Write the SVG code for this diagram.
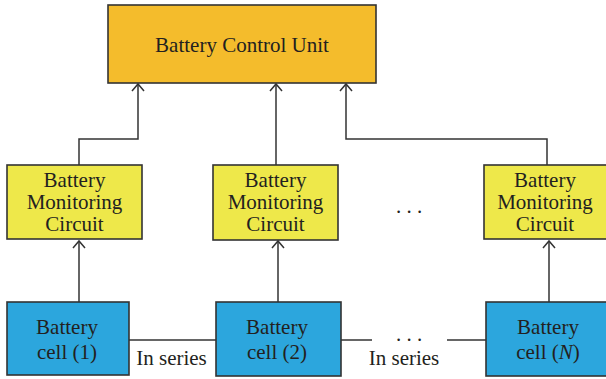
<svg xmlns="http://www.w3.org/2000/svg" width="606" height="379" viewBox="0 0 606 379">
<style>
.box{stroke:#333;stroke-width:1.6}
.bcu{fill:#F4BC2C}
.bmc{fill:#EEE84A}
.cell{fill:#2CA6DD}
text{font-family:"Liberation Serif","Times New Roman",serif;font-size:21px;fill:#231F20;text-anchor:middle}
.ln{fill:none;stroke:#333;stroke-width:1.5}
</style>
<defs>
<marker id="arr" markerUnits="userSpaceOnUse" viewBox="-9 -8 11 16" refX="0" refY="0" markerWidth="11" markerHeight="16" orient="auto">
<path d="M-7,-6 L0,0 L-7,6" fill="none" stroke="#333" stroke-width="1.5"/>
</marker>
</defs>
<rect width="606" height="379" fill="#fff"/>
<g id="connectors">
<path class="ln" d="M79,165 V139 H138 V84" marker-end="url(#arr)"/>
<path class="ln" d="M276,165 V84" marker-end="url(#arr)"/>
<path class="ln" d="M547,165 V139 H346 V84" marker-end="url(#arr)"/>
<path class="ln" d="M79,302 V241" marker-end="url(#arr)"/>
<path class="ln" d="M278,302 V241" marker-end="url(#arr)"/>
<path class="ln" d="M549,302 V241" marker-end="url(#arr)"/>
<path class="ln" d="M129,340 H216"/>
<path class="ln" d="M341,340 H372"/>
<path class="ln" d="M447,340 H486"/>
<text x="171.5" y="365">In series</text>
<text x="404" y="365">In series</text>
<text x="409" y="341">. . .</text>
<text x="409" y="213">. . .</text>
</g>
<g id="bcu">
<rect class="box bcu" x="108" y="5" width="268" height="78"/>
<text x="242" y="52">Battery Control Unit</text>
</g>
<g id="bmc1">
<rect class="box bmc" x="7" y="165" width="135" height="74"/>
<text x="74.5" y="187">Battery</text>
<text x="74.5" y="209">Monitoring</text>
<text x="74.5" y="231">Circuit</text>
</g>
<g id="bmc2">
<rect class="box bmc" x="213" y="165" width="125" height="75"/>
<text x="275.5" y="187">Battery</text>
<text x="275.5" y="209">Monitoring</text>
<text x="275.5" y="231">Circuit</text>
</g>
<g id="bmc3">
<rect class="box bmc" x="484" y="165" width="135" height="74"/>
<text x="545" y="187">Battery</text>
<text x="545" y="209">Monitoring</text>
<text x="545" y="231">Circuit</text>
</g>
<g id="cell1">
<rect class="box cell" x="7" y="302" width="122" height="73"/>
<text x="67" y="334">Battery</text>
<text x="67" y="359">cell (1)</text>
</g>
<g id="cell2">
<rect class="box cell" x="216" y="302" width="125" height="74"/>
<text x="277" y="334">Battery</text>
<text x="277" y="359">cell (2)</text>
</g>
<g id="cellN">
<rect class="box cell" x="486" y="302" width="124" height="74"/>
<text x="548" y="334">Battery</text>
<text x="548" y="359">cell (<tspan font-style="italic">N</tspan>)</text>
</g>
</svg>
